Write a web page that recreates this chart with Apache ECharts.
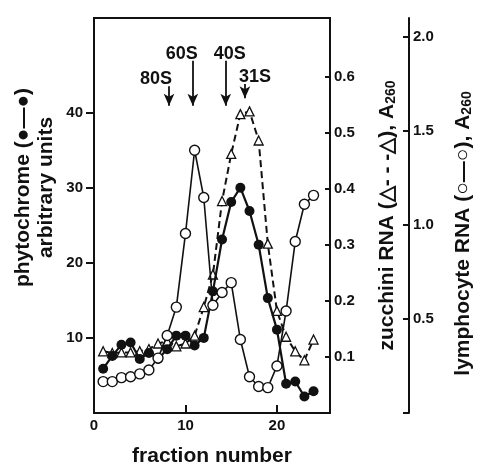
<!DOCTYPE html>
<html>
<head>
<meta charset="utf-8">
<script src="https://cdn.jsdelivr.net/npm/echarts@6/dist/echarts.min.js"></script>
<style>
  html, body { margin: 0; padding: 0; background: #fff; }
  #chart { width: 482px; height: 472px; }
</style>
</head>
<body>
<div id="chart"></div>
<script>
const fractions = [1, 2, 3, 4, 5, 6, 7, 8, 9, 10, 11, 12, 13, 14, 15, 16, 17, 18, 19, 20, 21, 22, 23, 24]
// phytochrome, arbitrary units
const phytochrome = [5.9, 7.6, 9.1, 9.4, 7.2, 8.0, 7.2, 8.5, 10.3, 10.3, 9.0, 10.0, 16.2, 23.1, 28.1, 30.0, 26.9, 22.4, 15.3, 11.1, 3.9, 4.2, 2.2, 2.9]
// zucchini RNA, A260
const zucchini = [0.110, 0.107, 0.108, 0.108, 0.110, 0.114, 0.124, 0.128, 0.119, 0.124, 0.138, 0.189, 0.247, 0.378, 0.462, 0.533, 0.538, 0.486, 0.302, 0.182, 0.136, 0.110, 0.094, 0.131]
// lymphocyte RNA, A260
const lymphocyte = [0.167, 0.167, 0.188, 0.193, 0.208, 0.229, 0.292, 0.412, 0.563, 0.954, 1.397, 1.146, 0.573, 0.641, 0.693, 0.391, 0.193, 0.141, 0.135, 0.250, 0.542, 0.912, 1.110, 1.157]

// sedimentation markers (fraction, arrow top, arrow tip in phytochrome units)
const markerNames = ['80S', '60S', '40S', '31S']
const markerFraction = [8.2, 10.8, 14.4, 16.5]
const markerTop = [43.5, 46.9, 46.9, 43.8]
const markerTip = [40.9, 40.9, 40.9, 41.9]
const markerShift = [-13, -11, 4, 10]

const xTicks = [0, 10, 20]
const phyTicks = [10, 20, 30, 40]
const zucTicks = [0.1, 0.2, 0.3, 0.4, 0.5, 0.6]
const lymTicks = [0.5, 1.0, 1.5, 2.0]

const font = 'Liberation Sans'
const black = '#111'

const pairs = (ys) => fractions.map((f, i) => [f, ys[i]])

const arrows = markerNames.map((name, i) => [
	{ name: name, coord: [markerFraction[i], markerTop[i]], label: { offset: [markerShift[i], 0] } },
	{ coord: [markerFraction[i], markerTip[i]] }
])

const labelStyle = { color: black, fontFamily: font, fontWeight: 'bold', fontSize: 15 }
const nameStyle = { color: black, fontFamily: font, fontWeight: 'bold', fontSize: 21 }
const lineStyle = { color: black, width: 2 }

const myChart = echarts.init(document.getElementById('chart'))
const option = {
	animation: false,
	backgroundColor: '#fff',
	grid: {
		left: 94,
		right: 142,
		top: 18,
		bottom: 51,
		show: true,
		borderColor: black,
		borderWidth: 2,
		backgroundColor: 'transparent'
	},
	xAxis: {
		type: 'value',
		min: 0,
		max: 25.8,
		name: 'fraction number',
		nameLocation: 'middle',
		nameGap: 33,
		nameTextStyle: { ...nameStyle },
		axisLine: { show: true, lineStyle: lineStyle },
		axisTick: { show: true, inside: true, length: 8, customValues: [10, 20], lineStyle: lineStyle },
		axisLabel: { ...labelStyle, margin: 5, customValues: xTicks },
		splitLine: { show: false }
	},
	yAxis: [
		{
			type: 'value',
			position: 'left',
			min: 0,
			max: 52.6,
			name: 'phytochrome (●—●)\narbitrary units',
			nameLocation: 'middle',
			nameRotate: 90,
			nameGap: 36,
			nameTextStyle: { ...nameStyle, lineHeight: 23, padding: [0, 0, 0, 56] },
			axisLine: { show: true, lineStyle: lineStyle },
			axisTick: { show: true, length: 8, customValues: phyTicks, lineStyle: lineStyle },
			axisLabel: { ...labelStyle, margin: 11, customValues: phyTicks },
			splitLine: { show: false }
		},
		{
			type: 'value',
			position: 'right',
			min: 0,
			max: 0.7045,
			name: '{a|zucchini RNA (△- - -△), A}{s|260}',
			nameLocation: 'middle',
			nameRotate: 90,
			nameGap: 46,
			nameTextStyle: {
				...nameStyle,
				rich: {
					a: { ...nameStyle },
					s: { ...nameStyle, fontSize: 14, verticalAlign: 'bottom', padding: [8, 0, 0, 0] }
				}
			},
			axisLine: { show: true, lineStyle: lineStyle },
			axisTick: { show: true, inside: true, length: 5, customValues: zucTicks, lineStyle: lineStyle },
			axisLabel: { ...labelStyle, margin: 4, customValues: zucTicks, formatter: v => v.toFixed(1) },
			splitLine: { show: false }
		},
		{
			type: 'value',
			position: 'right',
			offset: 79,
			min: 0,
			max: 2.1,
			name: '{a|lymphocyte RNA (○—○), A}{s|260}',
			nameLocation: 'middle',
			nameRotate: 90,
			nameGap: 43,
			nameTextStyle: {
				...nameStyle,
				padding: [0, 36, 0, 0],
				rich: {
					a: { ...nameStyle },
					s: { ...nameStyle, fontSize: 14, verticalAlign: 'bottom', padding: [8, 0, 0, 0] }
				}
			},
			axisLine: { show: true, lineStyle: lineStyle },
			axisTick: { show: true, inside: true, length: 6, customValues: [0, ...lymTicks], lineStyle: lineStyle },
			axisLabel: { ...labelStyle, margin: 4, customValues: lymTicks, formatter: v => v.toFixed(1) },
			splitLine: { show: false }
		}
	],
	series: [
		{
			name: 'zucchini',
			type: 'line',
			yAxisIndex: 1,
			data: pairs(zucchini),
			symbol: 'triangle',
			symbolSize: 9,
			itemStyle: { color: '#fff', borderColor: black, borderWidth: 1.3 },
			lineStyle: { color: black, width: 2, type: [7, 4] },
			z: 2
		},
		{
			name: 'phytochrome',
			type: 'line',
			yAxisIndex: 0,
			data: pairs(phytochrome),
			symbol: 'circle',
			symbolSize: 10,
			itemStyle: { color: black, borderColor: black, borderWidth: 0 },
			lineStyle: { color: black, width: 2.2 },
			z: 3,
			markLine: {
				silent: true,
				symbol: ['none', 'arrow'],
				symbolSize: [8, 12],
				lineStyle: { color: black, width: 1.8, type: 'solid' },
				label: {
					show: true,
					position: 'start',
					distance: -2,
					formatter: '{b}',
					color: black,
					fontFamily: font,
					fontWeight: 'bold',
					fontSize: 18
				},
				data: arrows
			}
		},
		{
			name: 'lymphocyte',
			type: 'line',
			yAxisIndex: 2,
			data: pairs(lymphocyte),
			symbol: 'circle',
			symbolSize: 10,
			itemStyle: { color: '#fff', borderColor: black, borderWidth: 1.4 },
			lineStyle: { color: black, width: 1.6 },
			z: 4
		}
	]
}
myChart.setOption(option)
</script>
</body>
</html>
